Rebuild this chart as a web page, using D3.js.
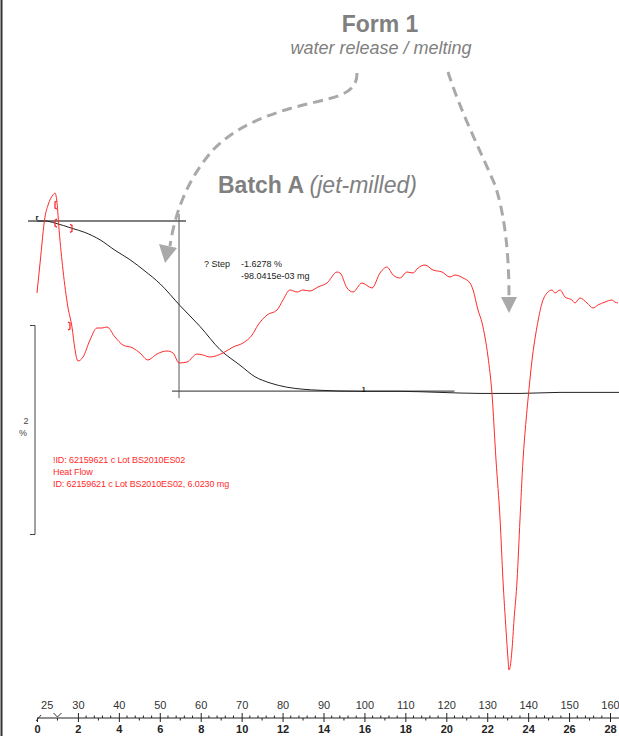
<!DOCTYPE html>
<html>
<head>
<meta charset="utf-8">
<script src="https://cdn.jsdelivr.net/npm/d3@7"></script>
<style>
  body { margin: 0; background: #fff; }
  svg { display: block; font-family: "Liberation Sans", Arial, sans-serif; }
</style>
</head>
<body>
<svg width="619" height="736"></svg>
<script>
// TG curve: time (min) vs mass (%)
var tgTime = [0, 0.39, 0.88, 1.71, 2.35, 3.08, 3.81, 4.54, 5.28, 6.01, 6.99, 7.97, 8.94, 9.92, 10.65, 11.39, 12.20, 13.00, 13.83, 15.78, 17.74, 19.69, 21.65, 23.60, 25.56, 27.51, 28.44];
var tgPct  = [100.00, 100.00, 99.98, 99.93, 99.89, 99.82, 99.72, 99.63, 99.52, 99.40, 99.19, 98.99, 98.77, 98.62, 98.51, 98.45, 98.41, 98.39, 98.38, 98.37, 98.37, 98.36, 98.35, 98.35, 98.36, 98.36, 98.36];

// DSC curve: time (min) vs heat flow (mW)
var dscTime = [0, 0.15, 0.39, 0.54, 0.78, 0.88, 0.98, 1.08, 1.27, 1.51, 1.71, 1.86, 2.00, 2.25, 2.59, 2.93, 3.18, 3.42, 3.81, 4.20, 4.69, 5.03, 5.42, 5.86, 6.35, 6.65, 6.94, 7.33, 7.82, 8.11, 8.45, 9.09, 9.58, 10.07, 10.51, 10.80, 11.24, 11.73, 12.02, 12.36, 12.71, 13.00, 13.34, 13.73, 14.17, 14.66, 14.81, 15.15, 15.44, 15.88, 16.37, 16.76, 17.10, 17.40, 17.74, 18.08, 18.37, 18.62, 18.96, 19.35, 19.79, 20.18, 20.43, 20.82, 21.16, 21.31, 21.55, 21.75, 21.89, 22.04, 22.23, 22.43, 22.63, 22.77, 22.92, 23.02, 23.06, 23.11, 23.21, 23.31, 23.46, 23.60, 23.75, 23.90, 23.99, 24.19, 24.43, 24.68, 24.92, 25.17, 25.31, 25.56, 25.80, 26.14, 26.29, 26.53, 26.88, 27.17, 27.41, 27.76, 28.10, 28.24, 28.39];
var dscHF   = [0.14, 0.74, 1.66, 1.90, 2.10, 2.14, 1.94, 1.40, 0.60, -0.14, -0.54, -1.00, -1.22, -1.14, -0.80, -0.56, -0.56, -0.54, -0.74, -0.90, -0.96, -1.06, -1.20, -1.08, -1.02, -1.06, -1.26, -1.24, -1.08, -1.10, -1.14, -1.06, -0.94, -0.86, -0.70, -0.50, -0.30, -0.20, 0.00, 0.20, 0.16, 0.20, 0.18, 0.26, 0.34, 0.56, 0.54, 0.24, 0.16, 0.34, 0.24, 0.54, 0.66, 0.50, 0.44, 0.56, 0.54, 0.64, 0.70, 0.60, 0.56, 0.46, 0.50, 0.44, 0.34, 0.20, -0.20, -0.46, -0.74, -1.14, -1.86, -3.20, -4.40, -5.60, -6.60, -7.20, -7.40, -7.36, -7.00, -6.40, -5.60, -4.40, -3.20, -2.40, -2.00, -1.20, -0.54, -0.06, 0.14, 0.20, 0.14, 0.20, 0.06, 0.00, -0.06, 0.04, -0.06, -0.16, -0.10, -0.04, 0.00, -0.04, -0.06];

var timeTicks = [0, 2, 4, 6, 8, 10, 12, 14, 16, 18, 20, 22, 24, 26, 28];
var tempTicks = [30, 40, 50, 60, 70, 80, 90, 100, 110, 120, 130, 140, 150, 160];

var stepStart = 0, stepMid = 6.94, stepEnd = 20.4;
var stepFrom = 100, stepTo = 98.3722;
var stepText = ["? Step", "-1.6278 %", "-98.0415e-03 mg"];
var legendLines = ["!ID: 62159621 c Lot BS2010ES02", "Heat Flow", "ID: 62159621 c Lot BS2010ES02, 6.0230 mg"];

var svg = d3.select("svg");

var x = d3.scaleLinear().domain([0, 28]).range([37, 610]);
var temp = d3.scaleLinear().domain([30, 160]).range([x(2), x(28)]);
var yTG = d3.scaleLinear().domain([100, 98]).range([221, 430]);
var yDSC = d3.scaleLinear().domain([0, -1]).range([300, 350]);

// left frame line
svg.append("line").attr("x1", 1.5).attr("x2", 1.5).attr("y1", 0).attr("y2", 736)
  .attr("stroke", "#333").attr("stroke-width", 2);

// step construction lines
var sg = svg.append("g").attr("stroke", "#555").attr("fill", "none");
sg.append("line").attr("x1", x(stepStart) - 9).attr("x2", x(stepMid) + 7)
  .attr("y1", yTG(stepFrom)).attr("y2", yTG(stepFrom)).attr("stroke-width", 1.3);
sg.append("line").attr("x1", x(stepMid)).attr("x2", x(stepMid))
  .attr("y1", yTG(stepFrom) - 7).attr("y2", yTG(stepTo) + 7);
sg.append("line").attr("x1", x(stepMid) - 7).attr("x2", x(stepEnd))
  .attr("y1", yTG(stepTo)).attr("y2", yTG(stepTo)).attr("stroke-width", 1.2);

// TG curve
var tgData = tgTime.map(function(t, i) { return [t, tgPct[i]]; });
svg.append("path").datum(tgData)
  .attr("fill", "none").attr("stroke", "#222").attr("stroke-width", 1)
  .attr("d", d3.line().x(function(d) { return x(d[0]); }).y(function(d) { return yTG(d[1]); }).curve(d3.curveMonotoneX));

// DSC curve
var dscData = dscTime.map(function(t, i) { return [t, dscHF[i]]; });
svg.append("path").datum(dscData)
  .attr("fill", "none").attr("stroke", "#ff2a2a").attr("stroke-width", 1)
  .attr("d", d3.line().x(function(d) { return x(d[0]); }).y(function(d) { return yDSC(d[1]); }).curve(d3.curveMonotoneX));

// small evaluation markers
function bracket(px, py, dir, col) {
  svg.append("path").attr("fill", "none").attr("stroke", col).attr("stroke-width", 1.3)
    .attr("d", "M" + (px + 2 * dir) + "," + (py - 4) + " L" + px + "," + (py - 3) + " L" + px + "," + (py + 3) + " L" + (px + 2 * dir) + "," + (py + 4));
}
bracket(x(0.88), yDSC(1.90), 1, "#ff2a2a");
bracket(x(0.88), yTG(99.98), 1, "#ff2a2a");
bracket(x(1.71), yTG(99.93), -1, "#ff2a2a");
bracket(x(1.61), yDSC(-0.52), -1, "#ff2a2a");
svg.append("text").attr("x", x(0)).attr("y", yTG(100) - 1).attr("font-size", 8).attr("font-weight", "bold")
  .attr("fill", "#111").attr("text-anchor", "middle").text("r");
svg.append("text").attr("x", x(15.97)).attr("y", yTG(98.37) + 1).attr("font-size", 7).attr("font-weight", "bold")
  .attr("fill", "#111").attr("text-anchor", "middle").text("1");

// step result text
svg.append("text").attr("x", 204).attr("y", 267).attr("font-size", 9).attr("fill", "#222").text(stepText[0]);
svg.append("text").attr("x", 241).attr("y", 267).attr("font-size", 9).attr("fill", "#222").text(stepText[1]);
svg.append("text").attr("x", 241).attr("y", 279).attr("font-size", 9).attr("fill", "#222").text(stepText[2]);

// scale bar (2 %)
var bar = svg.append("g").attr("stroke", "#444").attr("fill", "none");
bar.append("path").attr("d", "M30," + yTG(99) + " H35 V" + yTG(97) + " H30");
svg.append("text").attr("x", 26).attr("y", 424).attr("font-size", 9).attr("fill", "#444").attr("text-anchor", "middle").text("2");
svg.append("text").attr("x", 23).attr("y", 436).attr("font-size", 9).attr("fill", "#444").attr("text-anchor", "middle").text("%");

// legend
svg.append("g").selectAll("text").data(legendLines).join("text")
  .attr("x", 53).attr("y", function(d, i) { return 463 + i * 12; })
  .attr("font-size", 9).attr("letter-spacing", -0.1).attr("fill", "#ff2a2a")
  .text(function(d) { return d; });

// axes
var axisY = 718;
svg.append("line").attr("x1", x(0)).attr("x2", 619).attr("y1", axisY).attr("y2", axisY).attr("stroke", "#222");

var tempAxis = svg.append("g").attr("transform", "translate(0," + axisY + ")")
  .call(d3.axisTop(temp).tickValues(tempTicks).tickSize(5).tickPadding(4));
tempAxis.select(".domain").remove();
tempAxis.selectAll("text").attr("font-size", 11).attr("fill", "#333").attr("font-family", "Liberation Sans, Arial, sans-serif");
tempAxis.selectAll("line").attr("stroke", "#222");

var minorTemp = d3.range(32, 160, 2).filter(function(v) { return v % 10 !== 0; });
svg.append("g").selectAll("line").data(minorTemp).join("line")
  .attr("x1", function(d) { return temp(d); }).attr("x2", function(d) { return temp(d); })
  .attr("y1", axisY - 2.5).attr("y2", axisY).attr("stroke", "#222");

var timeAxis = svg.append("g").attr("transform", "translate(0," + axisY + ")")
  .call(d3.axisBottom(x).tickValues(timeTicks).tickSize(4).tickPadding(3));
timeAxis.select(".domain").remove();
timeAxis.selectAll("text").attr("font-size", 11).attr("font-weight", "bold").attr("fill", "#222").attr("font-family", "Liberation Sans, Arial, sans-serif");
timeAxis.selectAll("line").attr("stroke", "#222");

var oddMin = d3.range(1, 28, 2);
svg.append("g").selectAll("line").data(oddMin).join("line")
  .attr("x1", function(d) { return x(d); }).attr("x2", function(d) { return x(d); })
  .attr("y1", axisY).attr("y2", axisY + 2.5).attr("stroke", "#222");

// start of temperature axis (25) with break marks
svg.append("text").attr("x", x(0.5)).attr("y", axisY - 9).attr("font-size", 11).attr("fill", "#333")
  .attr("text-anchor", "middle").text("25");
svg.append("path").attr("fill", "none").attr("stroke", "#333")
  .attr("d", "M" + (x(0) - 1) + "," + (axisY + 3) + " L" + (x(0) + 4) + "," + (axisY - 3)
    + " M" + (x(1) - 4) + "," + (axisY - 5) + " L" + x(1) + "," + (axisY - 1) + " L" + (x(1) + 4) + "," + (axisY - 5));

// annotations
var grey = "#808080";
svg.append("text").attr("x", 380).attr("y", 32).attr("text-anchor", "middle")
  .attr("font-size", 23).attr("font-weight", "bold").attr("fill", grey).text("Form 1");
svg.append("text").attr("x", 381).attr("y", 54).attr("text-anchor", "middle")
  .attr("font-size", 18).attr("font-style", "italic").attr("fill", grey).text("water release / melting");
var bt = svg.append("text").attr("x", 218).attr("y", 193).attr("font-size", 23).attr("fill", grey);
bt.append("tspan").attr("font-weight", "bold").text("Batch A ");
bt.append("tspan").attr("font-style", "italic").text("(jet-milled)");

var arrowCol = "#a9a9a9";
svg.append("path").attr("fill", "none").attr("stroke", arrowCol).attr("stroke-width", 3)
  .attr("stroke-dasharray", "10,6")
  .attr("d", "M357,73 C357,90 345,95 320,101 C280,110 240,122 213,150 C192,174 176,205 170,246");
svg.append("path").attr("fill", arrowCol).attr("d", "M159,244 L177,248 L165,263 Z");
svg.append("path").attr("fill", "none").attr("stroke", arrowCol).attr("stroke-width", 3)
  .attr("stroke-dasharray", "10,6")
  .attr("d", "M448,72 C460,110 480,150 495,185 C505,215 509,255 509,296");
svg.append("path").attr("fill", arrowCol).attr("d", "M501,297 L517,297 L509,313 Z");
</script>
</body>
</html>
